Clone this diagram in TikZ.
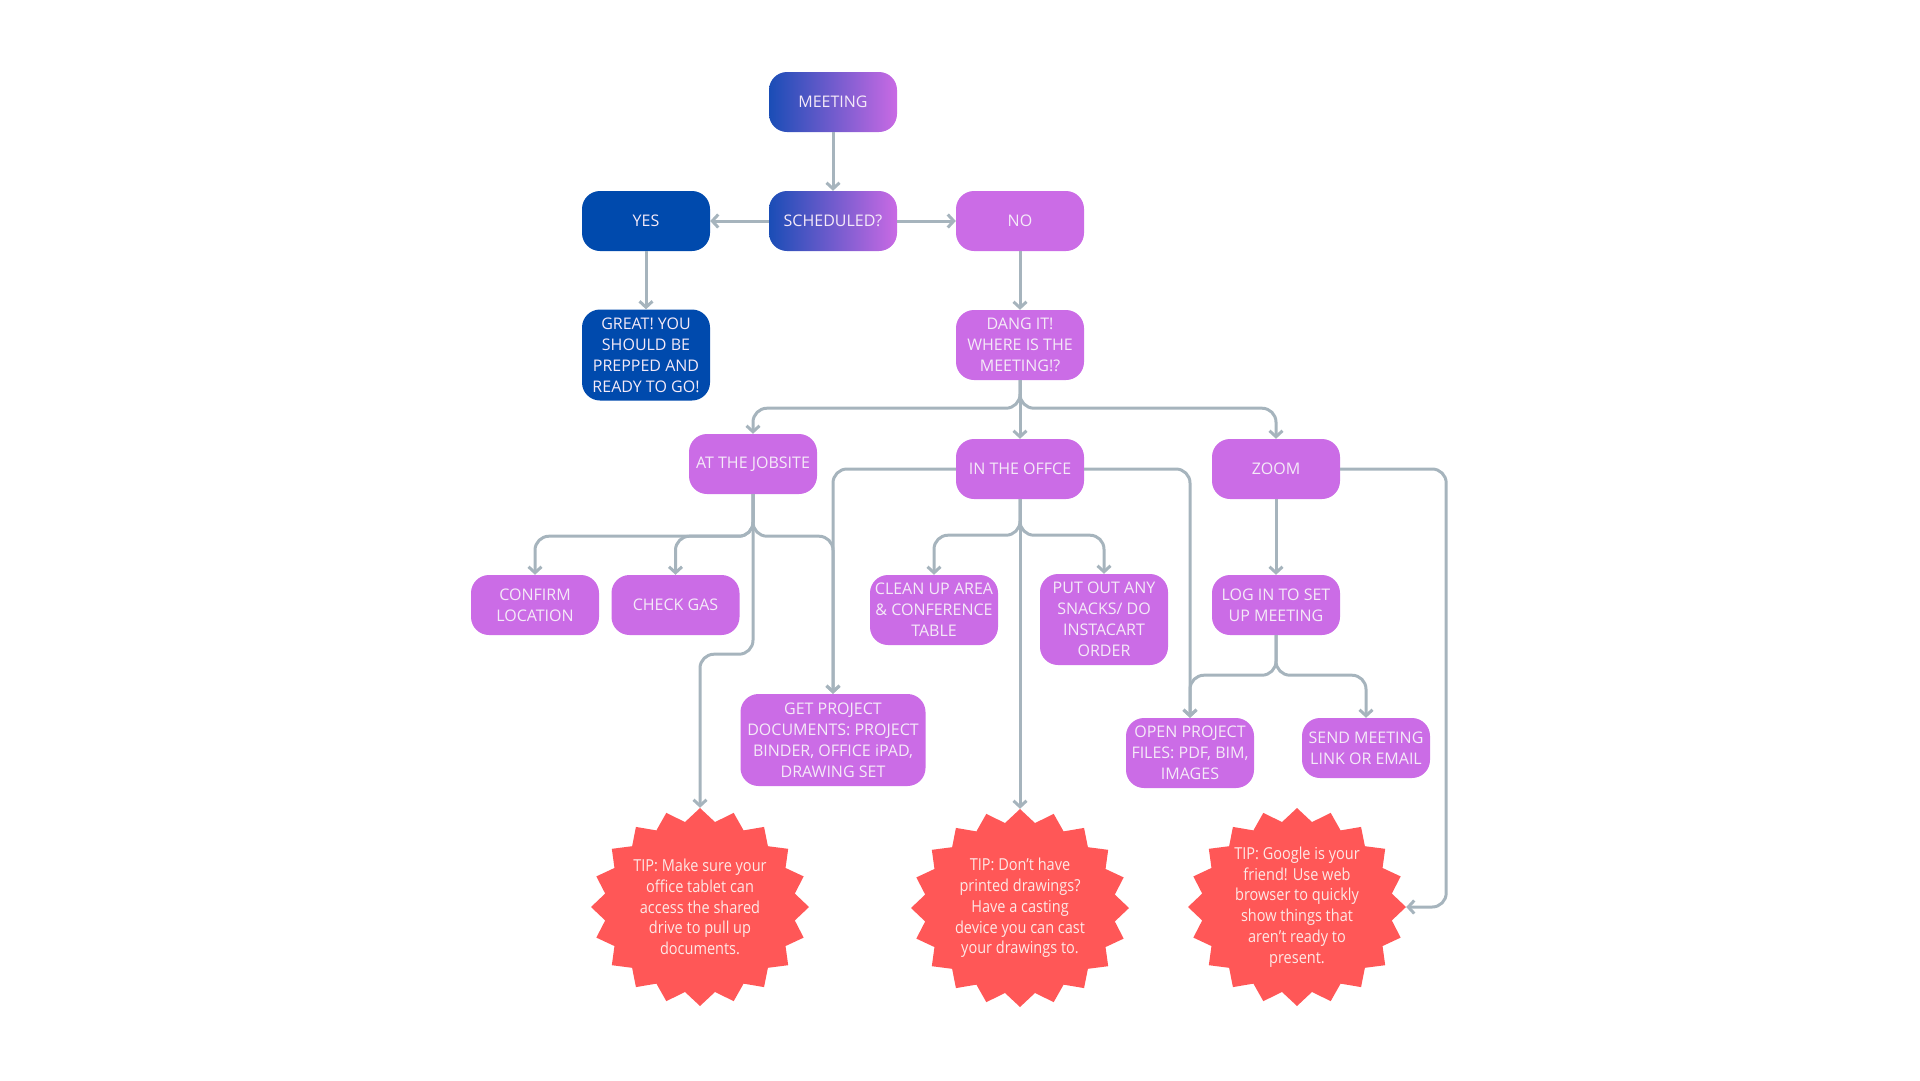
\documentclass[tikz,border=0pt]{standalone}
\usepackage{fontspec}
\setmainfont{Open Sans}
\newfontfamily\tipfont[FakeStretch=0.88]{Open Sans}
\usepackage{xcolor}
\usepackage{tikz}
\usetikzlibrary{shapes.geometric, arrows.meta, positioning, backgrounds}
\definecolor{meetblue}{HTML}{004AAD}
\definecolor{meetpurple}{HTML}{CB6CE6}
\definecolor{gradblue}{HTML}{1A4DB6}
\definecolor{gradpurple}{HTML}{C96AE4}
\definecolor{tipred}{HTML}{FF5757}
\definecolor{linegrey}{HTML}{A6B4BD}
\definecolor{boxtext}{HTML}{F5EAF8}
\definecolor{tiptext}{HTML}{FDE8E6}

\tikzset{
  box/.style={rounded corners=18pt, minimum width=128pt, minimum height=60pt, inner sep=2pt,
    align=center, text=boxtext, font=\fontsize{16}{21}\selectfont},
  purplebox/.style={box, fill=meetpurple},
  bluebox/.style={box, fill=meetblue},
  gradbox/.style={box, left color=gradblue, right color=gradpurple},
  tipnode/.style={ellipse, minimum width=218pt, minimum height=198pt, inner sep=0pt,
    align=center, text=tiptext, font=\tipfont\fontsize{16.5}{20.8}\selectfont},
  conn/.style={draw=linegrey, line width=3pt, rounded corners=14pt, -{Straight Barb[length=6pt, width=13pt]}}
}

\begin{document}
\begin{tikzpicture}[x=1pt, y=1pt, node distance=119pt]
  \useasboundingbox (0,0) rectangle (1920,-1080);

  \node[gradbox] (meeting) at (833,-102) {MEETING};
  \node[gradbox, below of=meeting] (sched) {SCHEDULED?};
  \node[bluebox, left of=sched, node distance=187pt] (yes) {YES};
  \node[purplebox, right of=sched, node distance=187pt] (no) {NO};
  \node[bluebox, below of=yes, node distance=134pt, minimum height=91pt] (great) {GREAT! YOU\\SHOULD BE\\PREPPED AND\\READY TO GO!};
  \node[purplebox, below of=no, node distance=124pt, minimum height=70pt] (dang) {DANG IT!\\WHERE IS THE\\MEETING!?};

  \node[purplebox, below of=dang, node distance=124pt] (office) {IN THE OFFCE};
  \node[purplebox, left of=office, node distance=267pt, yshift=5pt] (jobsite) {AT THE JOBSITE};
  \node[purplebox, right of=office, node distance=256pt] (zoom) {ZOOM};

  \node[purplebox, below of=jobsite, node distance=141pt, xshift=-218pt] (confirm) {CONFIRM\\LOCATION};
  \node[purplebox, right of=confirm, node distance=140.5pt] (checkgas) {CHECK GAS};
  \node[purplebox, below of=office, node distance=141pt, xshift=-86pt, minimum height=70pt] (cleanup) {CLEAN UP AREA\\\& CONFERENCE\\TABLE};
  \node[purplebox, below of=office, node distance=150.5pt, xshift=84pt, minimum height=91pt] (putout) {PUT OUT ANY\\SNACKS/ DO\\INSTACART\\ORDER};
  \node[purplebox, below of=zoom, node distance=136pt] (login) {LOG IN TO SET\\UP MEETING};

  \node[purplebox, below of=office, node distance=271pt, xshift=-187pt, minimum width=185pt, minimum height=92pt] (getdocs) {GET PROJECT\\DOCUMENTS: PROJECT\\BINDER, OFFICE iPAD,\\DRAWING SET};
  \node[purplebox, below of=login, node distance=148pt, xshift=-86pt, minimum height=70pt] (openfiles) {OPEN PROJECT\\FILES: PDF, BIM,\\IMAGES};
  \node[purplebox, below of=login, node distance=143pt, xshift=90pt] (sendlink) {SEND MEETING\\LINK OR EMAIL};

  \node[tipnode, below of=jobsite, node distance=443pt, xshift=-53pt] (tipA) {TIP: Make sure your\\office tablet can\\access the shared\\drive to pull up\\documents.};
  \node[tipnode, below of=office, node distance=439pt] (tipB) {TIP: Don’t have\\printed drawings?\\Have a casting\\device you can cast\\your drawings to.};
  \node[tipnode, below of=zoom, node distance=438pt, xshift=21pt] (tipC) {TIP: Google is your\\friend! Use web\\browser to quickly\\show things that\\aren’t ready to\\present.};

  % starbursts behind the tips
  \begin{scope}[on background layer]
    \foreach \t in {tipA, tipB, tipC} {
      \fill[tipred, shift={(\t.center)}] (0:109 and 99)
        \foreach \k [evaluate=\k as \a using \k*9, evaluate=\k as \r using {109-13*mod(\k,2)},
                     evaluate=\k as \s using {99-13*mod(\k,2)}] in {1,...,39} { -- ({\a}:{\r} and {\s}) } -- cycle;
    }
  \end{scope}

  \draw[conn] (meeting) -- (sched);
  \draw[conn] (sched) -- (yes);
  \draw[conn] (sched) -- (no);
  \draw[conn] (yes) -- (great);
  \draw[conn] (no) -- (dang);

  \draw[conn] (dang.south) -- ++(0,-28) -| (jobsite.north);
  \draw[conn] (dang) -- (office);
  \draw[conn] (dang.south) -- ++(0,-28) -| (zoom.north);

  \draw[conn] (jobsite.south) -- ++(0,-42) -| (confirm.north);
  \draw[conn] (jobsite.south) -- ++(0,-42) -| (checkgas.north);
  \draw[conn] (jobsite.south) -- ++(0,-42) -| (getdocs.north);
  \draw[conn] (jobsite.south) -- ++(0,-160) -| (tipA.north);

  \draw[conn] (office.west) -| (getdocs.north);
  \draw[conn] (office.south) -- ++(0,-36) -| (cleanup.north);
  \draw[conn] (office.south) -- ++(0,-36) -| (putout.north);
  \draw[conn] (office) -- (tipB);
  \draw[conn] (office.east) -| (openfiles.north);

  \draw[conn] (zoom) -- (login);
  \draw[conn] (login.south) -- ++(0,-40) -| (openfiles.north);
  \draw[conn] (login.south) -- ++(0,-40) -| (sendlink.north);
  \draw[conn] (zoom.east) -- ++(106,0) |- (tipC.east);
\end{tikzpicture}
\end{document}
